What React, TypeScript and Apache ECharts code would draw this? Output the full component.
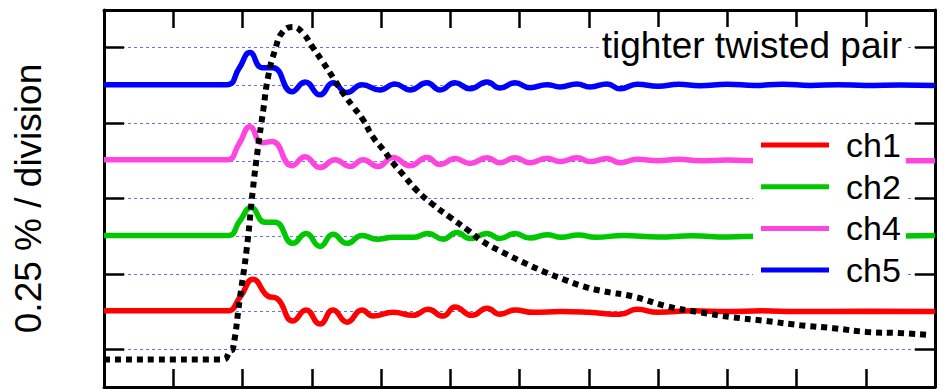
import React, { useEffect, useRef } from "react";
import * as echarts from "echarts";

// x in divisions (0..12), y in half-divisions (0..10)
const legendNames = ["ch1", "ch2", "ch4", "ch5"];
const title = "tighter twisted pair";
const yTitle = "0.25 % / division";

const ch1: number[][] = [
  [0, 2.02], [1.0, 2.02], [1.776, 2.02], [1.97, 2.4], [2.152, 2.86], [2.368, 2.41], [2.498, 2.35],
  [2.729, 1.75], [2.917, 2.04], [3.119, 1.67], [3.307, 2.04], [3.509, 1.72], [3.726, 2.04],
  [3.884, 1.88], [4.173, 1.98], [4.462, 1.9], [4.679, 2.06], [4.895, 1.88], [5.069, 2.12],
  [5.314, 1.9], [5.531, 2.09], [5.718, 1.93], [5.935, 2.04], [6.2, 1.98], [6.6, 2.0],
  [7.0, 1.98], [7.451, 1.93], [7.697, 2.06], [8.0, 1.98], [8.5, 2.02], [9.0, 2.0],
  [9.5, 2.02], [10.0, 2.0], [11.0, 2.01], [12.0, 2.0],
];

const ch2: number[][] = [
  [0, 4.02], [1.0, 4.02], [1.791, 4.02], [1.96, 4.4], [2.123, 4.76], [2.325, 4.37], [2.469, 4.37],
  [2.729, 3.81], [2.917, 4.07], [3.119, 3.73], [3.307, 4.05], [3.509, 3.81], [3.726, 4.02],
  [3.942, 3.92], [4.173, 3.97], [4.462, 3.97], [4.679, 4.07], [4.895, 3.92], [5.097, 4.1],
  [5.285, 3.94], [5.531, 4.07], [5.718, 3.94], [5.935, 4.07], [6.152, 3.95], [6.4, 4.04],
  [6.6, 3.97], [6.85, 4.03], [7.1, 3.97], [7.5, 4.02], [8.0, 3.98], [8.5, 4.01], [9.0, 3.98],
  [9.5, 4.0], [10.0, 4.0], [11.0, 4.0], [12.0, 4.02],
];

const ch4: number[][] = [
  [0, 6.03], [1.0, 6.03], [1.776, 6.03], [1.95, 6.45], [2.108, 6.9], [2.282, 6.48], [2.426, 6.51],
  [2.715, 5.87], [2.903, 6.11], [3.119, 5.82], [3.336, 6.03], [3.552, 5.85], [3.74, 6.03],
  [3.957, 5.85], [4.173, 6.09], [4.419, 5.87], [4.664, 6.09], [4.852, 5.9], [5.069, 6.06],
  [5.285, 5.93], [5.531, 6.08], [5.718, 5.95], [5.935, 6.08], [6.152, 5.95], [6.397, 6.07],
  [6.585, 5.98], [6.83, 6.08], [7.018, 5.98], [7.264, 6.06], [7.451, 5.95], [7.7, 6.04],
  [8.0, 6.0], [8.3, 6.04], [8.6, 6.0], [9.0, 6.02], [9.5, 6.0], [10.0, 6.02], [10.5, 6.0],
  [11.0, 6.01], [11.5, 6.0], [12.0, 6.0],
];

const ch5: number[][] = [
  [0, 8.02], [1.0, 8.02], [1.776, 8.02], [1.95, 8.45], [2.108, 8.87], [2.282, 8.47], [2.44, 8.47],
  [2.715, 7.83], [2.903, 8.09], [3.119, 7.75], [3.307, 8.07], [3.509, 7.81], [3.726, 8.02],
  [3.986, 7.88], [4.202, 8.04], [4.419, 7.88], [4.664, 8.07], [4.852, 7.88], [5.069, 8.07],
  [5.285, 7.91], [5.531, 8.09], [5.718, 7.93], [5.935, 8.07], [6.152, 7.94], [6.397, 8.02],
  [6.585, 7.96], [6.83, 8.04], [7.018, 7.96], [7.264, 8.04], [7.451, 7.91], [7.7, 8.03],
  [8.0, 7.98], [8.3, 8.03], [8.6, 7.99], [9.0, 8.03], [9.4, 8.0], [9.8, 8.03], [10.2, 8.0],
  [10.6, 8.02], [11.0, 8.0], [11.5, 8.01], [12.0, 8.0],
];

const drive: number[][] = [
  [0, 0.73], [1.72, 0.73], [1.82, 0.95], [1.86, 1.0], [1.96, 2.33], [2.06, 3.65], [2.15, 5.24],
  [2.22, 6.3], [2.3, 7.35], [2.37, 8.23], [2.47, 8.94], [2.58, 9.42], [2.73, 9.55], [2.87, 9.39],
  [3.02, 8.99], [3.16, 8.62], [3.31, 8.2], [3.45, 7.8], [3.6, 7.43], [3.74, 7.09], [3.88, 6.64],
  [4.03, 6.3], [4.17, 5.95], [4.32, 5.63], [4.52, 5.21], [4.75, 4.84], [5.0, 4.5], [5.24, 4.18],
  [5.47, 3.86], [5.76, 3.57], [6.05, 3.31], [6.34, 3.07], [6.63, 2.86], [6.92, 2.67], [7.21, 2.54],
  [7.64, 2.4], [8.13, 2.14], [8.61, 1.98], [9.08, 1.85], [9.57, 1.75], [10.05, 1.64],
  [10.53, 1.56], [11.02, 1.46], [11.49, 1.43], [11.93, 1.38],
];

const FONT = "'Liberation Sans', Arial, sans-serif";

export default function App() {
  const ref = useRef<HTMLDivElement>(null);
  useEffect(() => {
    if (!ref.current) return;
    const chart = echarts.init(ref.current, undefined, { renderer: "svg" });
    const xBase = {
      type: "value" as const,
      min: 0,
      max: 12,
      interval: 1,
      axisLine: { show: true, onZero: false, lineStyle: { color: "#000", width: 3 } },
      axisTick: { show: true, inside: true, length: 18, lineStyle: { color: "#000", width: 2.5 } },
      axisLabel: { show: false },
      splitLine: { show: false },
    };
    const yBase = {
      type: "value" as const,
      min: 0,
      max: 10,
      interval: 2,
      axisLine: { show: true, onZero: false, lineStyle: { color: "#000", width: 3 } },
      axisTick: { show: false, inside: true },
      minorTick: { show: true, splitNumber: 2, length: 20, lineStyle: { color: "#000", width: 2.5 } },
      axisLabel: { show: false },
    };
    const gridLine = { color: "#6b6bff", width: 1, type: [3, 3] as number[] };
    const mkLine = (name: string, data: number[][], color: string) => ({
      name,
      type: "line" as const,
      data,
      color,
      smooth: 0.5,
      showSymbol: false,
      symbol: "none",
      lineStyle: { color, width: 5.5 },
      xAxisIndex: 0,
      yAxisIndex: 0,
    });
    chart.setOption({
      animation: false,
      backgroundColor: "#fff",
      grid: { left: 104, right: 10, top: 10, bottom: 2, containLabel: false },
      title: {
        text: title,
        right: 40,
        top: 27,
        padding: [0, 3, 0, 3],
        backgroundColor: "#fff",
        textStyle: { fontFamily: FONT, fontSize: 37, fontWeight: "normal", color: "#000", lineHeight: 37 },
      },
      legend: {
        data: legendNames,
        orient: "vertical",
        left: 753,
        top: 125,
        padding: [2, 5, 2, 8],
        backgroundColor: "#fff",
        itemWidth: 68,
        itemHeight: 5,
        itemGap: 5.7,
        icon: "rect",
        textStyle: { fontFamily: FONT, fontSize: 34, color: "#000", lineHeight: 36, padding: [0, 0, 0, 12] },
      },
      xAxis: [
        { ...xBase, position: "bottom" },
        { ...xBase, position: "top" },
      ],
      yAxis: [
        {
          ...yBase,
          position: "left",
          name: yTitle,
          nameLocation: "middle",
          nameGap: 57,
          nameRotate: 90,
          nameTextStyle: { fontFamily: FONT, fontSize: 37, color: "#000", lineHeight: 37 },
          splitLine: { show: true, lineStyle: gridLine },
          minorSplitLine: { show: true, lineStyle: gridLine },
        },
        {
          ...yBase,
          position: "right",
          splitLine: { show: false },
          minorSplitLine: { show: false },
        },
      ],
      series: [
        mkLine("ch1", ch1, "#ff0000"),
        mkLine("ch2", ch2, "#00c800"),
        mkLine("ch4", ch4, "#ff45e0"),
        mkLine("ch5", ch5, "#0000ff"),
        {
          name: "drive",
          type: "line",
          data: drive,
          smooth: 0.5,
          showSymbol: false,
          symbol: "none",
          color: "#000",
          lineStyle: { color: "#000", width: 6, type: [6, 5], cap: "butt" },
        },
      ],
    });
    return () => chart.dispose();
  }, []);
  return (
    <div
      ref={ref}
      style={{ position: "absolute", left: 0, top: 0, width: 945, height: 389 }}
    />
  );
}
